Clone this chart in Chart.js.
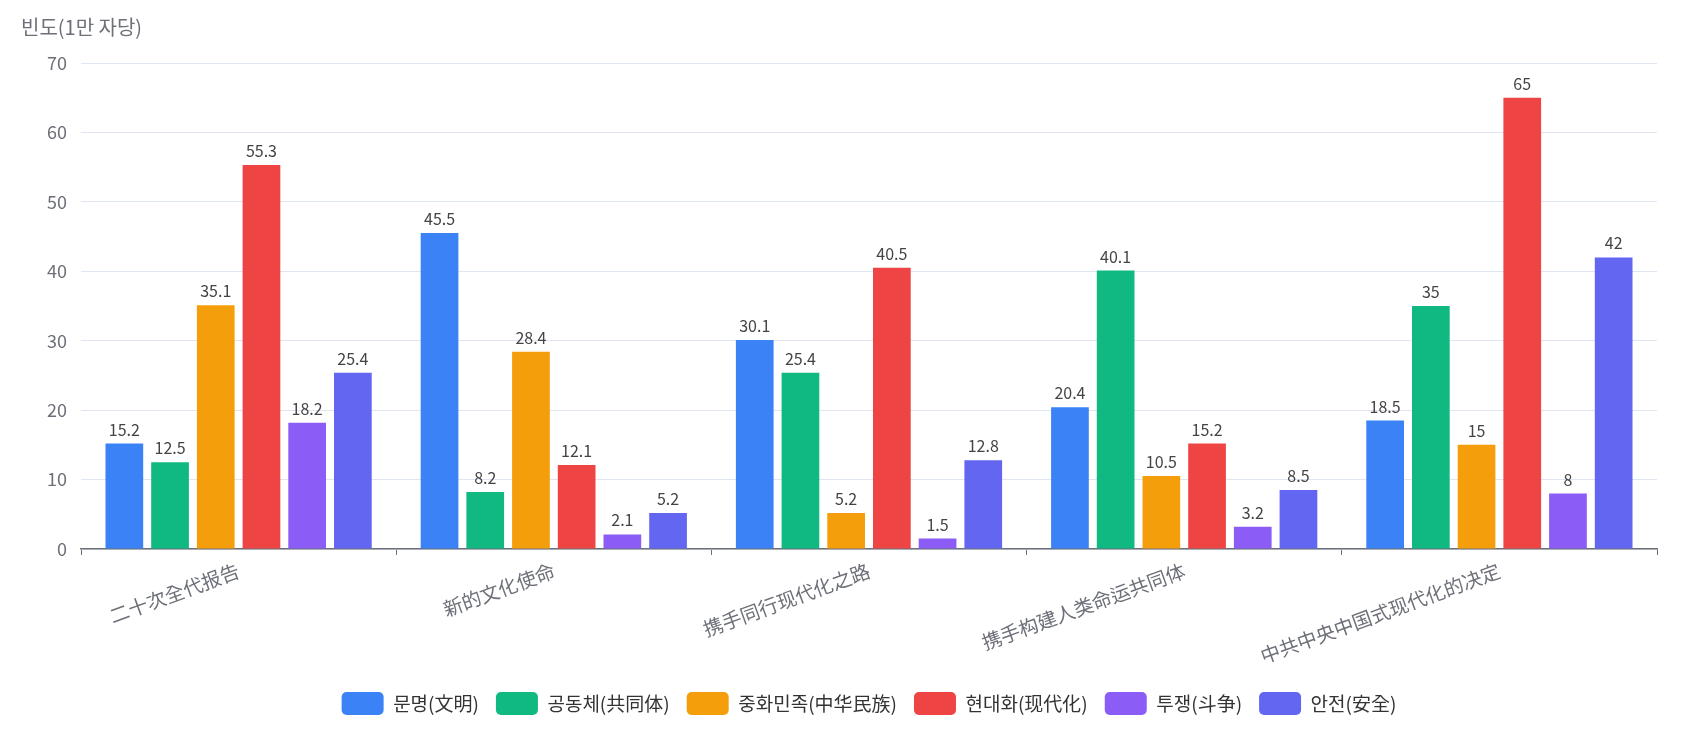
<!DOCTYPE html>
<html>
<head>
<meta charset="utf-8">
<script src="https://cdn.jsdelivr.net/npm/chart.js@4/dist/chart.umd.min.js"></script>
<style>
  html, body { margin: 0; padding: 0; background: #fff; }
  #wrap { width: 1683px; height: 739px; }
</style>
</head>
<body>
<div id="wrap"><canvas id="chart"></canvas></div>
<script>
// 데이터
const categories = ['二十次全代报告', '新的文化使命', '携手同行现代化之路', '携手构建人类命运共同体', '中共中央中国式现代化的决定'];
const seriesNames = ['문명(文明)', '공동체(共同体)', '중화민족(中华民族)', '현대화(现代化)', '투쟁(斗争)', '안전(安全)'];
const civilization = [15.2, 45.5, 30.1, 20.4, 18.5];
const community = [12.5, 8.2, 25.4, 40.1, 35];
const nation = [35.1, 28.4, 5.2, 10.5, 15];
const modernization = [55.3, 12.1, 40.5, 15.2, 65];
const struggle = [18.2, 2.1, 1.5, 3.2, 8];
const security = [25.4, 5.2, 12.8, 8.5, 42];
const yTitle = '빈도(1만 자당)';

const colors = ['#3b82f6', '#10b981', '#f59e0b', '#ef4444', '#8b5cf6', '#6366f1'];
const seriesValues = [civilization, community, nation, modernization, struggle, security];

const FONT = "'Noto Sans CJK KR', 'Noto Sans', sans-serif";
Chart.defaults.font.family = FONT;
Chart.defaults.color = '#6e7079';

// 막대 위 값 표시
const valueLabels = {
  id: 'valueLabels',
  afterDatasetsDraw(chart) {
    const ctx = chart.ctx;
    ctx.save();
    ctx.font = `16px ${FONT}`;
    ctx.fillStyle = '#444';
    ctx.textAlign = 'center';
    ctx.textBaseline = 'bottom';
    chart.data.datasets.forEach((ds, i) => {
      chart.getDatasetMeta(i).data.forEach((bar, j) => {
        ctx.fillText(String(ds.data[j]), bar.x, bar.y - 6);
      });
    });
    ctx.restore();
  }
};

// 왼쪽 위 축 제목
const axisTitle = {
  id: 'axisTitle',
  afterDraw(chart) {
    const ctx = chart.ctx;
    ctx.save();
    ctx.font = `20px ${FONT}`;
    ctx.fillStyle = '#6e7079';
    ctx.textAlign = 'left';
    ctx.textBaseline = 'middle';
    ctx.fillText(yTitle, 21, chart.chartArea.top - 36);
    ctx.restore();
  }
};

// 범례를 그래프 영역 기준으로 가운데 정렬
const legendCenter = {
  id: 'legendCenter',
  afterLayout(chart) {
    const lg = chart.legend;
    const shift = (chart.chartArea.left + chart.chartArea.right) / 2 - (lg.left + lg.right) / 2;
    lg.left += shift;
    lg.right += shift;
  }
};

new Chart(document.getElementById('chart').getContext('2d'), {
  type: 'bar',
  data: {
    labels: categories,
    datasets: seriesNames.map((name, i) => ({
      label: name,
      data: seriesValues[i],
      backgroundColor: colors[i],
      borderWidth: 0,
      categoryPercentage: 0.87,
      barPercentage: 0.825
    }))
  },
  options: {
    responsive: true,
    maintainAspectRatio: false,
    animation: false,
    layout: { padding: { top: 63, right: 26, bottom: 14, left: 0 } },
    plugins: {
      legend: {
        position: 'bottom',
        labels: {
          boxWidth: 42,
          boxHeight: 23,
          useBorderRadius: true,
          borderRadius: 5,
          padding: 17,
          color: '#333',
          font: { size: 19 }
        }
      },
      tooltip: { enabled: false }
    },
    scales: {
      x: {
        grid: { drawOnChartArea: false, drawTicks: true, tickLength: 6, color: '#6e7079', offset: true },
        border: { color: '#6e7079', width: 1.5 },
        ticks: { maxRotation: 20, minRotation: 20, font: { size: 19.5 }, color: '#6e7079', padding: 4 },
        afterFit(scale) { scale.height = 126; }
      },
      y: {
        min: 0,
        max: 70,
        ticks: { stepSize: 10, font: { size: 18 }, color: '#6e7079', padding: 14 },
        grid: { color: '#e0e6f1', drawTicks: false },
        border: { display: false },
        afterFit(scale) { scale.width = 81; }
      }
    }
  },
  plugins: [valueLabels, axisTitle, legendCenter]
});
</script>
</body>
</html>
